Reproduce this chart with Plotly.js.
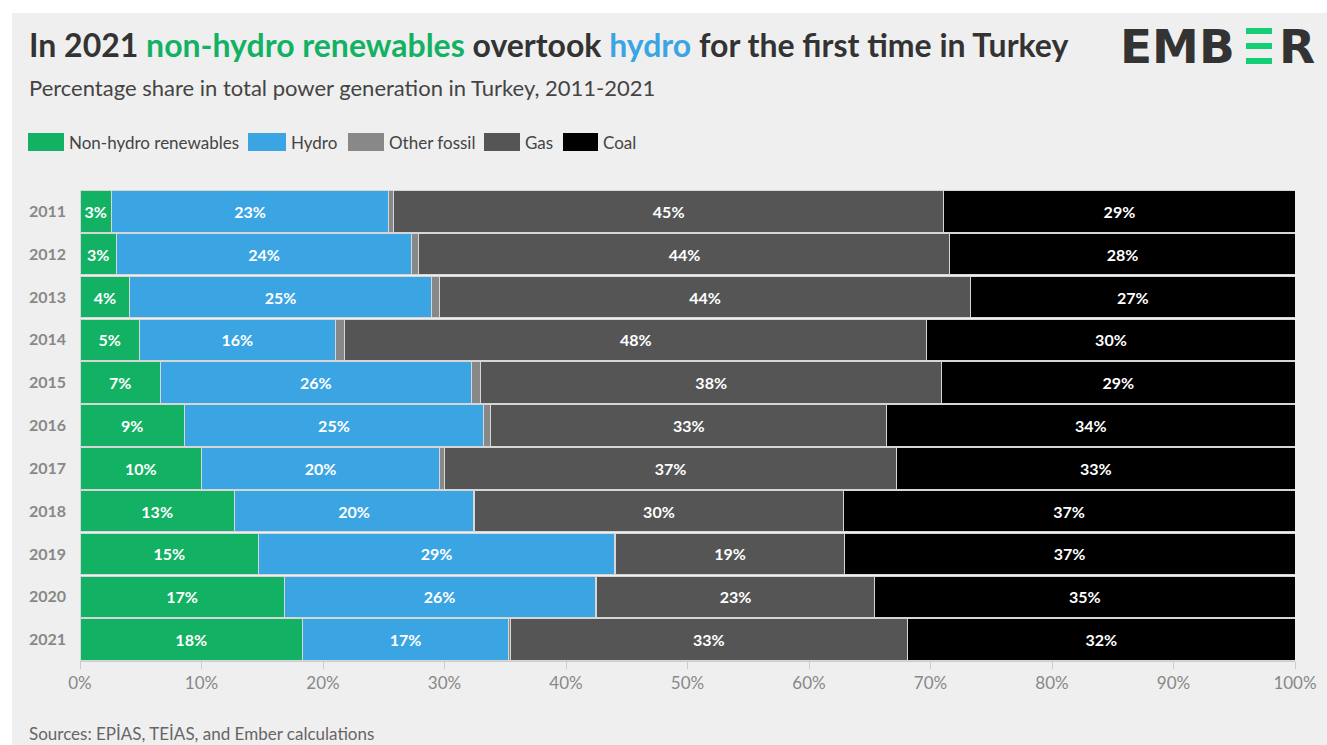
<!DOCTYPE html>
<html>
<head>
<meta charset="utf-8">
<script src="https://cdn.plot.ly/plotly-3.0.1.min.js"></script>
<style>
  html, body { margin:0; padding:0; background:#ffffff; width:1327px; height:745px; overflow:hidden; }
  #chart { position:absolute; left:12px; top:13px; width:1315px; height:732px; }
</style>
</head>
<body>
<div id="chart"></div>
<script>
// ---- Data (percentage share of total generation) ----
const years = ['2011','2012','2013','2014','2015','2016','2017','2018','2019','2020','2021'];
const nonHydro   = [2.6, 3.0, 4.1, 4.9, 6.6, 8.6, 10.0, 12.7, 14.7, 16.8, 18.3];
const hydro      = [22.8, 24.3, 24.8, 16.1, 25.6, 24.6, 19.6, 19.7, 29.3, 25.6, 17.0];
const otherFossil= [0.4, 0.6, 0.7, 0.8, 0.8, 0.6, 0.4, 0.1, 0.1, 0.1, 0.1];
const gas        = [45.3, 43.7, 43.7, 47.9, 37.9, 32.6, 37.2, 30.3, 18.8, 22.9, 32.7];
const coal       = [28.9, 28.4, 26.7, 30.3, 29.1, 33.6, 32.8, 37.2, 37.1, 34.6, 31.9];
const seriesNames = ['Non-hydro renewables','Hydro','Other fossil','Gas','Coal'];
const seriesColors = ['#13b163','#3ba5e3','#888888','#555555','#000000'];
const xTicks = [0,10,20,30,40,50,60,70,80,90,100];

// ---- Geometry helpers (absolute page px -> paper coords) ----
const PL = 80, PR = 1295, PT = 190, PB = 661;
const px = x => (x - PL) / (PR - PL);
const py = y => (PB - y) / (PB - PT);

const seriesData = [nonHydro, hydro, otherFossil, gas, coal];
const traces = seriesData.map((vals, i) => ({
  type: 'bar',
  orientation: 'h',
  name: seriesNames[i],
  y: years,
  x: vals,
  marker: { color: seriesColors[i], line: { color: '#d6d6d6', width: 1 } },
  texttemplate: i === 2 ? '' : '%{x:.0f}%',
  textposition: i === 2 ? 'none' : 'inside',
  insidetextanchor: 'middle',
  textfont: { family: 'Lato', size: 16, color: '#ffffff', weight: 'bold' },
  hoverinfo: 'skip',
  showlegend: false
}));

const annotations = [];
const shapes = [];

// Title
annotations.push({
  xref:'paper', yref:'paper', x:px(27), y:py(44), xanchor:'left', yanchor:'middle',
  showarrow:false,
  text:"<b>In 2021 <span style='color:#13b163'>non-hydro renewables</span> overtook <span style='color:#3ba5e3'>hydro</span> for the first time in Turkey</b>",
  font:{family:'Lato', size:32, color:'#333333'}
});
// Subtitle
annotations.push({
  xref:'paper', yref:'paper', x:px(27), y:py(87), xanchor:'left', yanchor:'middle',
  showarrow:false,
  text:'Percentage share in total power generation in Turkey, 2011-2021',
  font:{family:'Lato', size:22, color:'#444444'}
});
// Source
annotations.push({
  xref:'paper', yref:'paper', x:px(27), y:py(733), xanchor:'left', yanchor:'middle',
  showarrow:false,
  text:'Sources: EPİAS, TEİAS, and Ember calculations',
  font:{family:'Lato', size:17, color:'#666666'}
});

// Legend (custom swatches)
const legSw = [[28,64],[248,286],[348,384],[484,520],[563,598]];
legSw.forEach((s, i) => {
  shapes.push({
    type:'rect', xref:'paper', yref:'paper',
    x0:px(s[0]), x1:px(s[1]), y0:py(151), y1:py(133),
    fillcolor:seriesColors[i], line:{width:0}, layer:'above'
  });
  annotations.push({
    xref:'paper', yref:'paper', x:px(s[1]+3), y:py(142), xanchor:'left', yanchor:'middle',
    showarrow:false, text:seriesNames[i],
    font:{family:'Lato', size:17, color:'#444444'}
  });
});

// EMBER logo
annotations.push({
  xref:'paper', yref:'paper', x:px(1237), y:py(46), xanchor:'right', yanchor:'middle',
  showarrow:false, text:'<b>EMB</b>',
  font:{family:'DejaVu Sans', size:47, color:'#333333', weight:'bold'}
});
annotations.push({
  xref:'paper', yref:'paper', x:px(1277), y:py(46), xanchor:'left', yanchor:'middle',
  showarrow:false, text:'<b>R</b>',
  font:{family:'DejaVu Sans', size:47, color:'#333333', weight:'bold'}
});
[[28,34],[43,49],[58,64]].forEach(b => {
  shapes.push({
    type:'rect', xref:'paper', yref:'paper',
    x0:px(1246), x1:px(1272), y0:py(b[1]), y1:py(b[0]),
    fillcolor:'#13ce74', line:{width:0}, layer:'above'
  });
});

const layout = {
  width:1315, height:732,
  paper_bgcolor:'#efefef', plot_bgcolor:'#efefef',
  margin:{l:68, r:32, t:177, b:84, pad:0},
  barmode:'stack', bargap:0.03,
  showlegend:false,
  font:{family:'Lato', color:'#888888'},
  xaxis:{
    range:[0,100], tickvals:xTicks, ticktext:xTicks.map(v => v + '%'),
    showgrid:false, zeroline:false,
    showline:true, linecolor:'#cccccc', linewidth:1,
    ticks:'outside', ticklen:7, tickcolor:'#cccccc',
    tickfont:{family:'Lato', size:17, color:'#888888'},
    fixedrange:true
  },
  yaxis:{
    type:'category', categoryorder:'array', categoryarray:years,
    autorange:'reversed',
    showgrid:false, zeroline:false, showline:false,
    ticks:'', ticklabelstandoff:13,
    tickfont:{family:'Lato', size:16, color:'#888888', weight:'bold'},
    fixedrange:true
  },
  uniformtext:{mode:'show', minsize:16},
  annotations:annotations,
  shapes:shapes
};

Plotly.newPlot('chart', traces, layout, {displayModeBar:false, staticPlot:true});
</script>
</body>
</html>
